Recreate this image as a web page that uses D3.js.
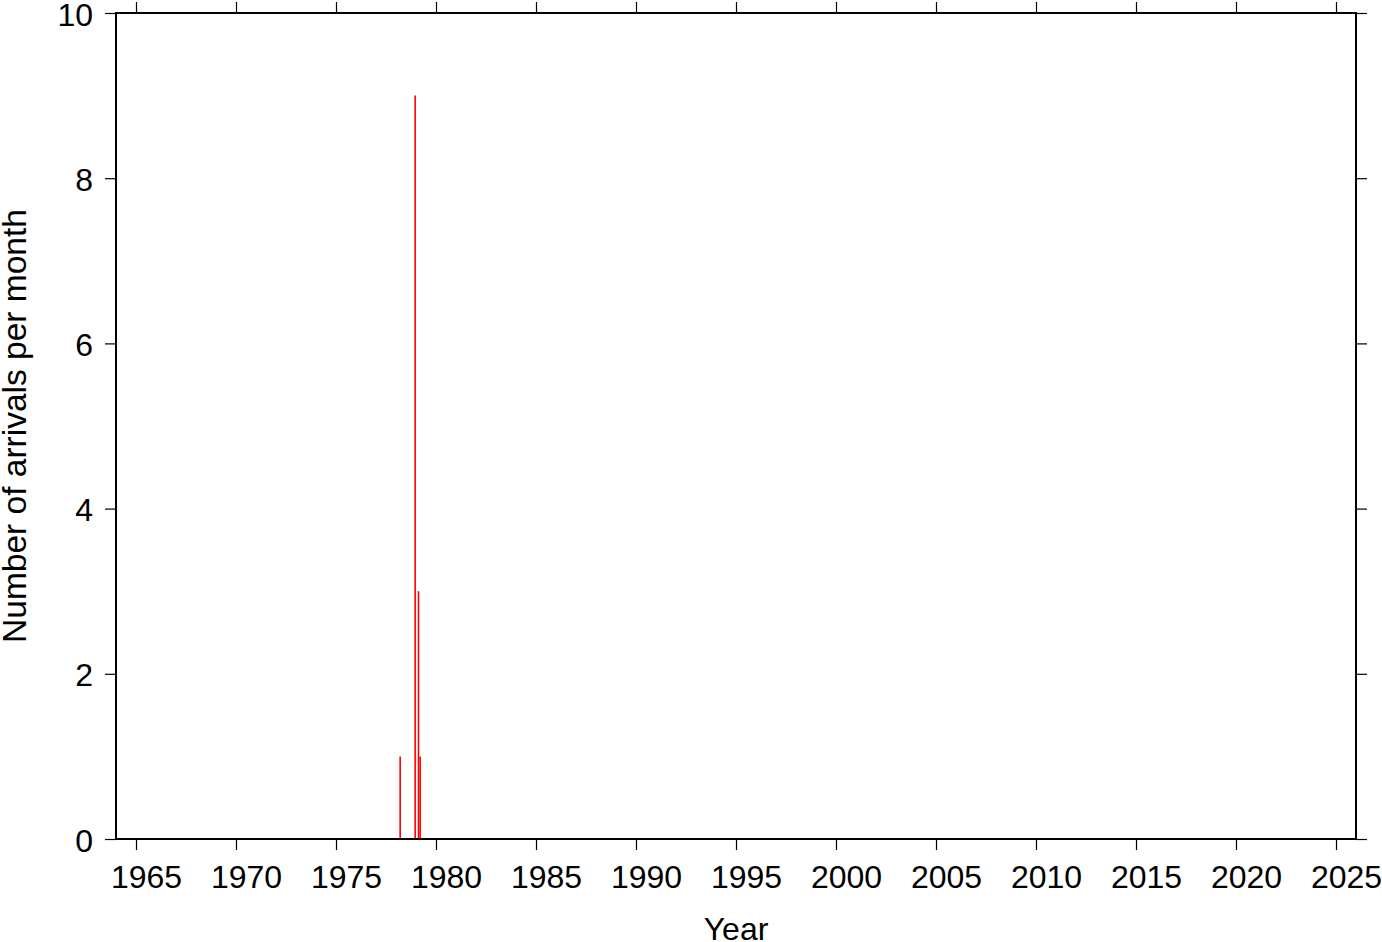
<!DOCTYPE html>
<html><head><meta charset="utf-8">
<script src="https://cdn.jsdelivr.net/npm/d3@7"></script>
<style>body{margin:0;background:#fff}svg{display:block}text{font-family:"Liberation Sans",Arial,Helvetica,sans-serif;fill:#000}</style>
</head><body>
<script>
// Data: months (YYYY-MM) and number of arrivals
const months = ["1978-03", "1978-12", "1979-02", "1979-03"];
const counts = [1, 9, 3, 1];
const xTicks = [1965,1970,1975,1980,1985,1990,1995,2000,2005,2010,2015,2020,2025];
const yTicks = [0,2,4,6,8,10];
const xDomain = [1964, 2026];
const yDomain = [0, 10];

const W = 1382, H = 942;
const m = {left:116, right:1356, top:13, bottom:839};
const svg = d3.select("body").append("svg").attr("width",W).attr("height",H);

const x = d3.scaleLinear().domain(xDomain).range([m.left, m.right]);
const y = d3.scaleLinear().domain(yDomain).range([m.bottom, m.top]);

function decYear(s){ const [yy,mm]=s.split("-").map(Number); return yy + (mm-0.5)/12; }

const fs = 32;
// bottom axis
const gb = svg.append("g").attr("transform",`translate(0,${m.bottom})`)
  .call(d3.axisBottom(x).tickValues(xTicks).tickFormat(d3.format("d")).tickSize(11).tickSizeOuter(0));
gb.selectAll("text").attr("font-size",fs).attr("dx",10).attr("dy","0.9em").attr("y",20);
// top axis
svg.append("g").attr("transform",`translate(0,${m.top})`)
  .call(d3.axisTop(x).tickValues(xTicks).tickFormat("").tickSize(11).tickSizeOuter(0));
// left axis
const gl = svg.append("g").attr("transform",`translate(${m.left},0)`)
  .call(d3.axisLeft(y).tickValues(yTicks).tickFormat(d3.format("d")).tickSize(11).tickSizeOuter(0));
gl.selectAll("text").attr("font-size",fs).attr("x",-23).attr("dy","0.38em");
// right axis
svg.append("g").attr("transform",`translate(${m.right},0)`)
  .call(d3.axisRight(y).tickValues(yTicks).tickFormat("").tickSize(11).tickSizeOuter(0));
svg.selectAll(".domain").remove();
svg.selectAll(".tick line").attr("stroke","#000").attr("stroke-width",1.2);

// bars
svg.append("g").selectAll("line").data(months.map((d,i)=>({t:decYear(d), v:counts[i]})))
  .join("line")
  .attr("x1",d=>x(d.t)).attr("x2",d=>x(d.t))
  .attr("y1",y(0)).attr("y2",d=>y(d.v))
  .attr("stroke","#ff0000").attr("stroke-width",1.6);

// frame
svg.append("rect").attr("x",m.left).attr("y",m.top).attr("width",m.right-m.left).attr("height",m.bottom-m.top)
  .attr("fill","none").attr("stroke","#000").attr("stroke-width",2);

// axis titles
svg.append("text").attr("x",(m.left+m.right)/2).attr("y",940).attr("text-anchor","middle").attr("font-size",fs).text("Year");
svg.append("text").attr("transform",`translate(26,${(m.top+m.bottom)/2}) rotate(-90)`).attr("text-anchor","middle").attr("font-size",33.5).text("Number of arrivals per month");
</script>
</body></html>
